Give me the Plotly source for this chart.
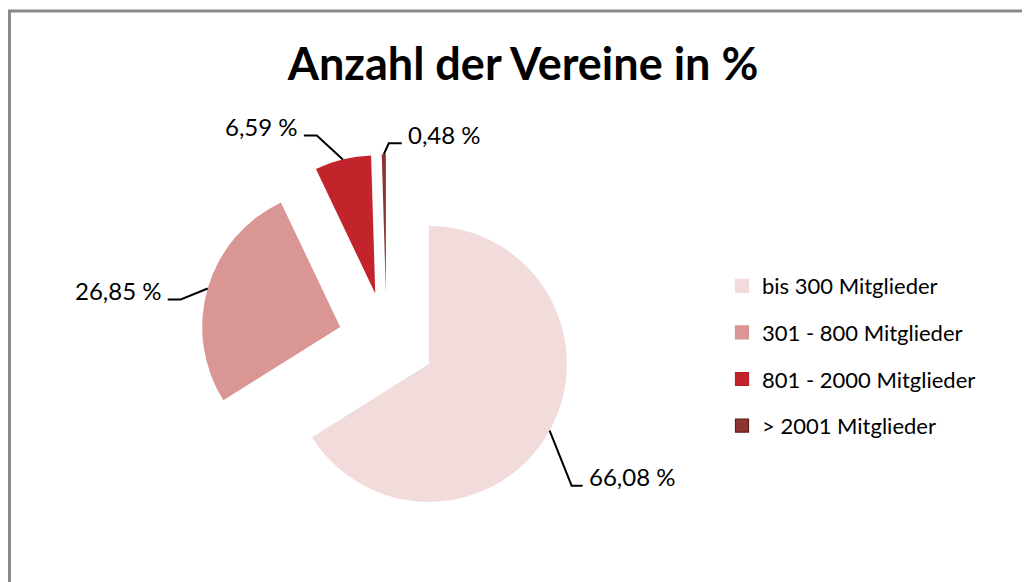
import math
import plotly.graph_objects as go

# ---------------- data ----------------
categories = ["bis 300 Mitglieder", "301 - 800 Mitglieder",
              "801 - 2000 Mitglieder", "> 2001 Mitglieder"]
values = [66.08, 26.85, 6.59, 0.48]
value_labels = ["66,08 %", "26,85 %", "6,59 %", "0,48 %"]
title_text = "Anzahl der Vereine in %"

# ---------------- style ----------------
colors = ["#F2DCDB", "#D99694", "#C3232B", "#8E3532"]
legend_line_colors = ["#F2DCDB", "#D99694", "#B81F27", "#5E1E1C"]
FONT = "Lato, 'Open Sans', sans-serif"

W, H = 1030, 582
OFF = 8                        # page body margin of the rendered html
PULL = 0.35
CX, CY = 386.6, 340.5          # pie centre in (screen) pixels
R_BOX = 186.3                  # half size of pie domain box
r = R_BOX / (1 + PULL)         # radius of the drawn pie

def px(x, y):
    """screen pixel -> paper coordinates"""
    return (x - OFF) / W, 1 - (y - OFF) / H

dom_x = [px(CX - R_BOX, 0)[0], px(CX + R_BOX, 0)[0]]
dom_y = [px(0, CY + R_BOX)[1], px(0, CY - R_BOX)[1]]

fig = go.Figure()
fig.add_trace(go.Pie(
    labels=categories, values=values, sort=False, direction="clockwise",
    rotation=0, pull=[PULL] * len(values), textinfo="none",
    marker=dict(colors=colors, line=dict(width=0)),
    domain=dict(x=dom_x, y=dom_y), showlegend=False,
    hovertemplate="%{label}: %{value:.2f} %<extra></extra>",
))

# legend via marker-only traces (to control spacing)
for i, c in enumerate(categories):
    fig.add_trace(go.Scatter(
        x=[None], y=[None], mode="markers", name=c, legendgroup=f"g{i}",
        marker=dict(symbol="square", size=13, color=colors[i],
                    line=dict(color=legend_line_colors[i], width=1.2)),
        hoverinfo="skip",
    ))

# ---------------- leader lines & labels ----------------
# elbow offsets (pixels) relative to the outer arc point at each slice bisector
leader_offsets = [((22, 55), (33, 55), "left"),
                  ((-27, 11), (-40, 11), "right"),
                  ((-26, -24), (-39, -24), "right"),
                  ((5, -11), (18, -11), "left")]
total = sum(values)
cum = 0.0
shapes = []
annotations = []
for i, v in enumerate(values):
    theta = 2 * math.pi * (cum + v / 2) / total
    cum += v
    dx, dy = math.sin(theta), -math.cos(theta)
    dist = r * (1 + PULL)
    x0, y0 = CX + dist * dx, CY + dist * dy
    (ax1, ay1), (ax2, ay2), side = leader_offsets[i]
    p0 = px(x0, y0)
    p1 = px(x0 + ax1, y0 + ay1)
    p2 = px(x0 + ax2, y0 + ay2)
    shapes.append(dict(type="path", xref="paper", yref="paper",
                       path=f"M {p0[0]},{p0[1]} L {p1[0]},{p1[1]} L {p2[0]},{p2[1]}",
                       line=dict(color="#000000", width=2)))
    lx = x0 + ax2 + (4 if side == "left" else -4)
    ly = y0 + ay2 - 9
    lp = px(lx, ly)
    annotations.append(dict(x=lp[0], y=lp[1], xref="paper", yref="paper",
                            text=value_labels[i], showarrow=False,
                            xanchor=side, yanchor="middle",
                            font=dict(family=FONT, size=24, color="#000000")))

# chart-area frame
fx0, fy1 = px(9.5, 11)
shapes.append(dict(type="rect", xref="paper", yref="paper",
                   x0=fx0, x1=1.05, y0=-0.05, y1=fy1,
                   line=dict(color="#8A8A8A", width=3), fillcolor="rgba(0,0,0,0)",
                   layer="above"))

tx, ty = px(523, 64)
lgx, lgy = px(722, 265)
fig.update_layout(
    width=W, height=H,
    margin=dict(l=0, r=0, t=0, b=0),
    paper_bgcolor="white", plot_bgcolor="white",
    title=dict(text=f"<b>{title_text}</b>", x=tx, y=ty,
               xanchor="center", yanchor="middle",
               font=dict(family=FONT, size=45, color="#000000")),
    xaxis=dict(visible=False), yaxis=dict(visible=False),
    legend=dict(x=lgx, y=lgy, xanchor="left", yanchor="top",
                font=dict(family=FONT, size=22, color="#000000"),
                tracegroupgap=15, bgcolor="rgba(0,0,0,0)", itemclick=False,
                itemdoubleclick=False),
    shapes=shapes, annotations=annotations,
)

fig.write_html("out.html")
